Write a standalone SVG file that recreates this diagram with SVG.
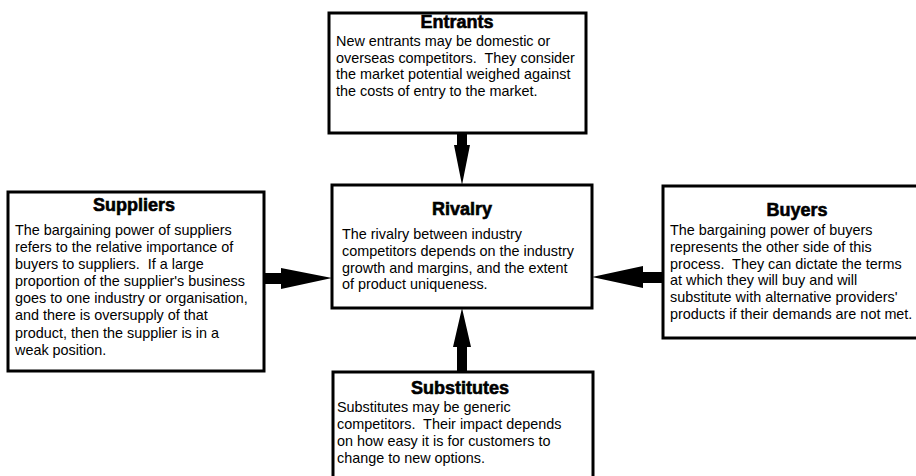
<svg xmlns="http://www.w3.org/2000/svg" width="916" height="476" viewBox="0 0 916 476" xml:space="preserve">
<style>
.box{fill:#fff;stroke:#000;stroke-width:3}
.title{font-family:"Liberation Sans",Arial,sans-serif;font-weight:bold;font-size:18px;fill:#000;stroke:#000;stroke-width:0.6;text-anchor:middle}
.body{font-family:"Liberation Sans",Arial,sans-serif;font-size:14.4px;fill:#000;white-space:pre}
.arrow{fill:#000;stroke:none}
</style>
<rect width="916" height="476" fill="#fff"/>
<g id="connectors">
  <polygon class="arrow" points="457,133 467,133 467,145 470,145 462,185 454,145 457,145"/>
  <polygon class="arrow" points="264,273 281,273 281,268 332,278 281,289 281,284 264,284"/>
  <polygon class="arrow" points="663,272 643,272 643,266 592,277 643,288 643,283 663,283"/>
  <polygon class="arrow" points="457,372 467,372 467,347 471,347 462,308 453,347 457,347"/>
</g>
<g id="entrants">
  <rect class="box" x="329" y="13" width="257" height="120"/>
  <text class="title" x="457" y="28">Entrants</text>
  <text class="body" x="336" y="46">New entrants may be domestic or</text>
  <text class="body" x="336" y="63">overseas competitors.  They consider</text>
  <text class="body" x="336" y="79">the market potential weighed against</text>
  <text class="body" x="336" y="96">the costs of entry to the market.</text>
</g>
<g id="suppliers">
  <rect class="box" x="8" y="192" width="256" height="179"/>
  <text class="title" x="134" y="211">Suppliers</text>
  <text class="body" x="15" y="235">The bargaining power of suppliers</text>
  <text class="body" x="15" y="252">refers to the relative importance of</text>
  <text class="body" x="15" y="269">buyers to suppliers.  If a large</text>
  <text class="body" x="15" y="286">proportion of the supplier's business</text>
  <text class="body" x="15" y="303">goes to one industry or organisation,</text>
  <text class="body" x="15" y="320">and there is oversupply of that</text>
  <text class="body" x="15" y="338">product, then the supplier is in a</text>
  <text class="body" x="15" y="355">weak position.</text>
</g>
<g id="rivalry">
  <rect class="box" x="332" y="185" width="260" height="123"/>
  <text class="title" x="462" y="215">Rivalry</text>
  <text class="body" x="342" y="239">The rivalry between industry</text>
  <text class="body" x="342" y="256">competitors depends on the industry</text>
  <text class="body" x="342" y="273">growth and margins, and the extent</text>
  <text class="body" x="342" y="289">of product uniqueness.</text>
</g>
<g id="buyers">
  <rect class="box" x="663" y="186" width="260" height="152"/>
  <text class="title" x="797" y="216">Buyers</text>
  <text class="body" x="670" y="235">The bargaining power of buyers</text>
  <text class="body" x="670" y="252">represents the other side of this</text>
  <text class="body" x="670" y="269">process.  They can dictate the terms</text>
  <text class="body" x="670" y="285">at which they will buy and will</text>
  <text class="body" x="670" y="302">substitute with alternative providers'</text>
  <text class="body" x="670" y="319">products if their demands are not met.</text>
</g>
<g id="substitutes">
  <rect class="box" x="333" y="372" width="260" height="120"/>
  <text class="title" x="460" y="394">Substitutes</text>
  <text class="body" x="337" y="412">Substitutes may be generic</text>
  <text class="body" x="337" y="429">competitors.  Their impact depends</text>
  <text class="body" x="337" y="446">on how easy it is for customers to</text>
  <text class="body" x="337" y="463">change to new options.</text>
</g>
</svg>
